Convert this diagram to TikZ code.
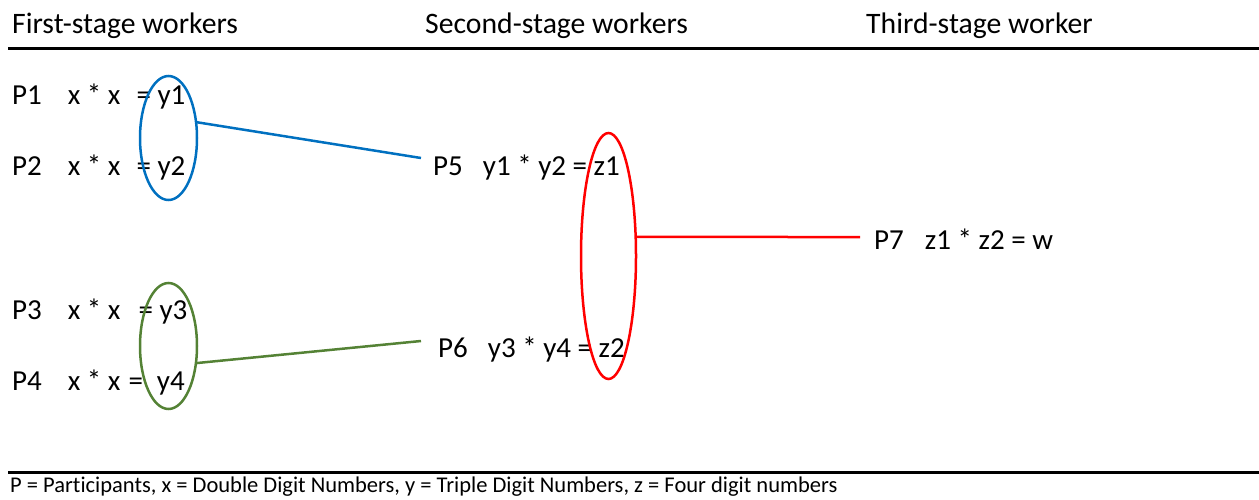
\documentclass[tikz,border=0pt]{standalone}
\usepackage{fontspec}
\setmainfont{Carlito}[Ligatures=NoCommon]
\usepackage{xcolor}
\usetikzlibrary{shapes.geometric}
\definecolor{grpblue}{RGB}{0,112,192}
\definecolor{grpgreen}{RGB}{84,130,53}
\definecolor{grpred}{RGB}{255,0,0}

\begin{document}
\begin{tikzpicture}[
  x=1pt, y=-1pt,
  head/.style={anchor=base west, inner sep=0pt, font=\fontsize{29.7}{34}\selectfont},
  worker/.style={anchor=base west, inner ysep=0pt, inner xsep=0pt, text height=19pt, text depth=6pt, font=\fontsize{29}{34}\selectfont},
  group/.style={draw, ellipse, line width=2.5pt, inner sep=0pt, outer sep=0pt, minimum width=57pt},
  link/.style={line width=2.5pt},
  rule/.style={line width=3pt}
]
\useasboundingbox (0,0) rectangle (1259,499);

\node[head] (first) at (12,33) {First-stage workers};
\node[head] (second) at (425,33) {Second-stage workers};
\node[head] (third) at (866,33) {Third-stage worker};
\draw[rule] (8,48) -- (1259,48);

\node[worker] (p1) at (12,104) {P1\hspace{26pt}x * x\hspace{16pt}= y1};
\node[worker] (p2) at (12,175) {P2\hspace{26pt}x * x\hspace{16pt}= y2};
\node[worker] (p3) at (12,319) {P3\hspace{26pt}x * x\hspace{18pt}= y3};
\node[worker] (p4) at (12,390) {P4\hspace{26pt}x * x\hspace{8pt}=\hspace{14pt}y4};

\node[worker, inner xsep=12pt] (p5) at (421,175) {P5\hspace{20pt}y1 * y2 = z1};
\node[worker, inner xsep=17pt] (p6) at (421,357) {P6\hspace{20pt}y3 * y4 = z2};
\node[worker, inner xsep=14pt] (p7) at (860,249) {P7\hspace{21pt}z1 * z2 = w};

\node[group, grpblue, minimum height=124pt] (g1) at (168.5,138) {};
\node[group, grpgreen, minimum height=126pt] (g2) at (168.5,346) {};
\node[group, grpred, minimum width=55pt, minimum height=246pt] (g3) at (608.5,256) {};

\draw[link, grpblue] (g1.30) -- ([yshift=10.5pt]p5.west);
\draw[link, grpgreen] (g2.-32) -- ([yshift=9.5pt]p6.west);
\draw[link, grpred] (g3.35) -- ([yshift=5.5pt]p7.west);

\draw[rule] (8,472) -- (1259,472);
\node[anchor=base west, inner sep=0pt, font=\fontsize{22.5}{27}\selectfont] (legend) at (10,492.5)
  {P = Participants, x = Double Digit Numbers, y = Triple Digit Numbers, z = Four digit numbers};
\end{tikzpicture}
\end{document}
